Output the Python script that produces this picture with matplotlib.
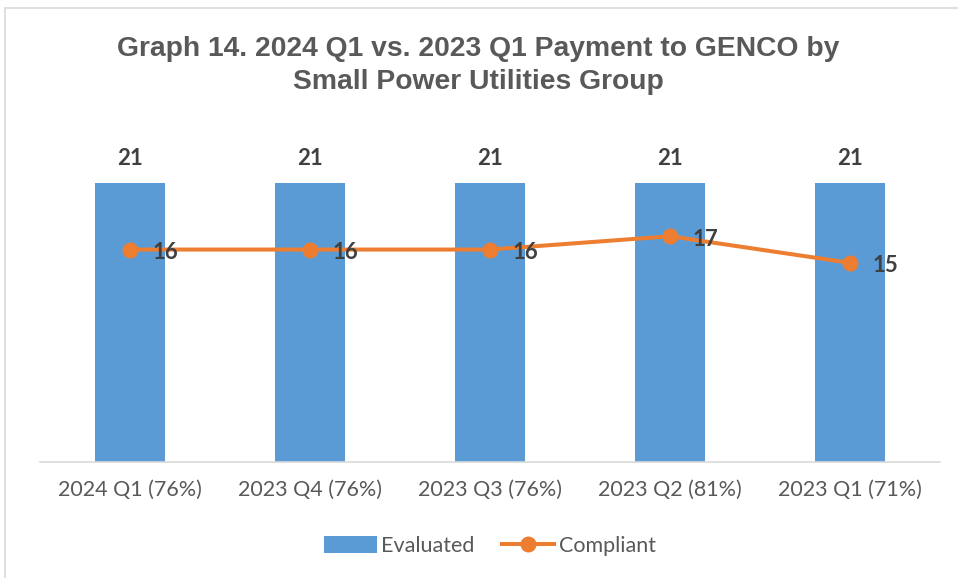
import matplotlib.pyplot as plt
from matplotlib.patches import Rectangle

# Data
categories = ['2024 Q1 (76%)', '2023 Q4 (76%)', '2023 Q3 (76%)', '2023 Q2 (81%)', '2023 Q1 (71%)']
evaluated = [21, 21, 21, 21, 21]
compliant = [16, 16, 16, 17, 15]

bar_color = '#5B9BD5'
line_color = '#ED7D31'
text_color = '#595959'
label_color = '#404040'
body_font = ['Lato', 'DejaVu Sans']

fig = plt.figure(figsize=(9.58, 5.78), dpi=100)
ax = fig.add_axes([0.0418, 0.2007, 0.9394, 0.5743])

x = list(range(len(categories)))
bars = ax.bar(x, evaluated, width=0.39, color=bar_color, label='Evaluated', zorder=2)
line, = ax.plot(x, compliant, color=line_color, lw=2.9, marker='o', markersize=10.5,
                label='Compliant', zorder=3)

# Data labels
for xi, v in zip(x, evaluated):
    ax.annotate(str(v), (xi, v), xytext=(0, 18), textcoords='offset points',
                ha='center', va='center', fontsize=16, fontweight='bold',
                color=label_color, family=body_font)
for xi, v in zip(x, compliant):
    ax.annotate(str(v), (xi, v), xytext=(16.5, -2), textcoords='offset points',
                ha='left', va='center', fontsize=16, fontweight='bold',
                color=label_color, family=body_font)

ax.set_xlim(-0.5, len(categories) - 0.5)
ax.set_ylim(0, 25)
ax.set_yticks([])
ax.set_xticks(x)
ax.set_xticklabels(categories, fontsize=15.5, color=text_color, family=body_font)
ax.tick_params(axis='x', length=0, pad=13)
for side in ['top', 'right', 'left']:
    ax.spines[side].set_visible(False)
ax.spines['bottom'].set_color('#D9D9D9')
ax.spines['bottom'].set_linewidth(1.2)

fig.text(0.499, 0.887, 'Graph 14. 2024 Q1 vs. 2023 Q1 Payment to GENCO by\nSmall Power Utilities Group',
         ha='center', va='center', fontsize=20.3, fontweight='bold', color=text_color,
         family=['Liberation Sans', 'DejaVu Sans'], linespacing=1.32)

leg = ax.legend([bars, line], ['Evaluated', 'Compliant'], loc='center',
                bbox_to_anchor=(0.5, -0.253), ncol=2, frameon=False,
                prop={'family': body_font, 'size': 15.5}, handlelength=2.45,
                columnspacing=1.25, handletextpad=0.2, handleheight=0.8)
for t in leg.get_texts():
    t.set_color(text_color)

# Chart area border
fig.patches.append(Rectangle((5 / 958, -0.05), 1.2, 1 - 8 / 578 + 0.05,
                             transform=fig.transFigure, fill=False,
                             edgecolor='#D9D9D9', lw=1.2))

fig.savefig('out.png', dpi=100)
